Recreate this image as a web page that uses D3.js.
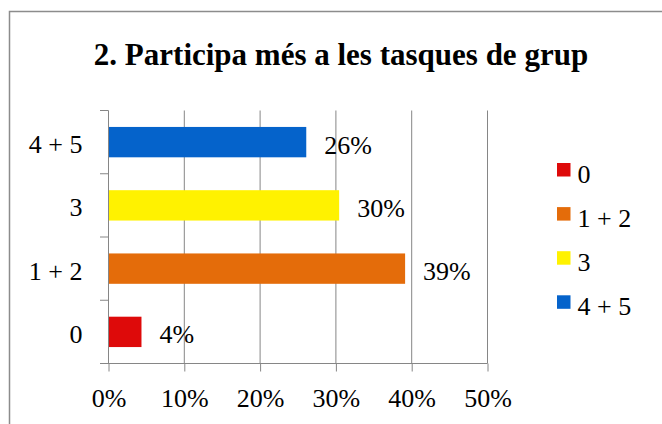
<!DOCTYPE html>
<html>
<head>
<meta charset="utf-8">
<script src="https://cdn.jsdelivr.net/npm/d3@7"></script>
<style>
  html, body { margin: 0; padding: 0; background: #fff; }
  svg { display: block; }
</style>
</head>
<body>
<svg id="chart" width="662" height="424"></svg>
<script>
// Chart data
const title = "2. Participa més a les tasques de grup";
const categories = ["0", "1 + 2", "3", "4 + 5"];
const values = [0.0435, 0.3913, 0.3043, 0.2609];
const colors = ["#de0a0a", "#e46c0a", "#fff200", "#0563cb"];
const xTicks = [0, 0.1, 0.2, 0.3, 0.4, 0.5];

const FONT = "'Liberation Serif', 'Times New Roman', serif";
const AXIS_GREY = "#868686";

const svg = d3.select("#chart");

// Outer frame (runs off the right and bottom of the picture)
svg.append("rect")
  .attr("x", 9.5)
  .attr("y", 11.5)
  .attr("width", 700)
  .attr("height", 500)
  .attr("fill", "none")
  .attr("stroke", "#8c8c8c")
  .attr("stroke-width", 1.5);

// Title
svg.append("text")
  .attr("x", 341)
  .attr("y", 65)
  .attr("text-anchor", "middle")
  .style("font-family", FONT)
  .style("font-weight", "bold")
  .style("font-size", "31px")
  .attr("fill", "#000")
  .text(title);

// Scales
const x = d3.scaleLinear().domain([0, 0.5]).range([108.5, 487.5]);

// first category sits at the bottom
const y = d3.scaleBand()
  .domain(categories.slice().reverse())
  .range([110.5, 363.5])
  .paddingInner(0.52)
  .paddingOuter(0.26);

const step = y.step();
const plotTop = y.range()[0];
const plotBottom = y.range()[1];

// Vertical gridlines
svg.append("g")
  .selectAll("line")
  .data(xTicks.filter((d) => d > 0))
  .enter()
  .append("line")
  .attr("x1", (d) => x(d))
  .attr("x2", (d) => x(d))
  .attr("y1", plotTop)
  .attr("y2", plotBottom)
  .attr("stroke", AXIS_GREY)
  .attr("stroke-width", 1);

// Bars
svg.append("g")
  .selectAll("rect")
  .data(categories)
  .enter()
  .append("rect")
  .attr("x", x(0))
  .attr("y", (d) => y(d))
  .attr("width", (d, i) => x(values[i]) - x(0))
  .attr("height", y.bandwidth())
  .attr("fill", (d, i) => colors[i]);

// Data labels
svg.append("g")
  .selectAll("text")
  .data(categories)
  .enter()
  .append("text")
  .attr("x", (d, i) => x(values[i]) + 18)
  .attr("y", (d) => y(d) + y.bandwidth() / 2 + 11.5)
  .style("font-family", FONT)
  .style("font-size", "26px")
  .attr("fill", "#000")
  .text((d, i) => d3.format(".0%")(values[i]));

// X axis
const xAxis = svg.append("g")
  .attr("transform", `translate(0,${plotBottom})`)
  .call(
    d3.axisBottom(x)
      .tickValues(xTicks)
      .tickFormat(d3.format(".0%"))
      .tickSize(8)
      .tickSizeOuter(0)
      .tickPadding(17)
  );
xAxis.select(".domain").remove();
xAxis.append("line")
  .attr("x1", 100)
  .attr("x2", x(0.5))
  .attr("stroke", AXIS_GREY);
xAxis.selectAll(".tick line").attr("stroke", AXIS_GREY);
xAxis.selectAll(".tick text")
  .style("font-family", FONT)
  .style("font-size", "26px")
  .attr("fill", "#000");

// Y axis labels
const yAxis = svg.append("g")
  .attr("transform", `translate(${x(0)},0)`)
  .call(d3.axisLeft(y).tickSize(0).tickPadding(26));
yAxis.select(".domain").remove();
yAxis.selectAll(".tick text")
  .attr("dy", "0.42em")
  .style("font-family", FONT)
  .style("font-size", "26px")
  .attr("fill", "#000");

// Y axis line and tick marks between categories
svg.append("line")
  .attr("x1", x(0))
  .attr("x2", x(0))
  .attr("y1", plotTop)
  .attr("y2", plotBottom)
  .attr("stroke", AXIS_GREY);

svg.append("g")
  .selectAll("line")
  .data(d3.range(categories.length))
  .enter()
  .append("line")
  .attr("x1", 100)
  .attr("x2", x(0))
  .attr("y1", (i) => plotTop + i * step)
  .attr("y2", (i) => plotTop + i * step)
  .attr("stroke", AXIS_GREY);

// Legend
const legend = svg.append("g")
  .selectAll("g")
  .data(categories)
  .enter()
  .append("g")
  .attr("transform", (d, i) => `translate(557,${163 + i * 44.1})`);

legend.append("rect")
  .attr("width", 13.5)
  .attr("height", 13.5)
  .attr("fill", (d, i) => colors[i]);

legend.append("text")
  .attr("x", 20.5)
  .attr("y", 19.5)
  .style("font-family", FONT)
  .style("font-size", "26px")
  .attr("fill", "#000")
  .text((d) => d);
</script>
</body>
</html>
